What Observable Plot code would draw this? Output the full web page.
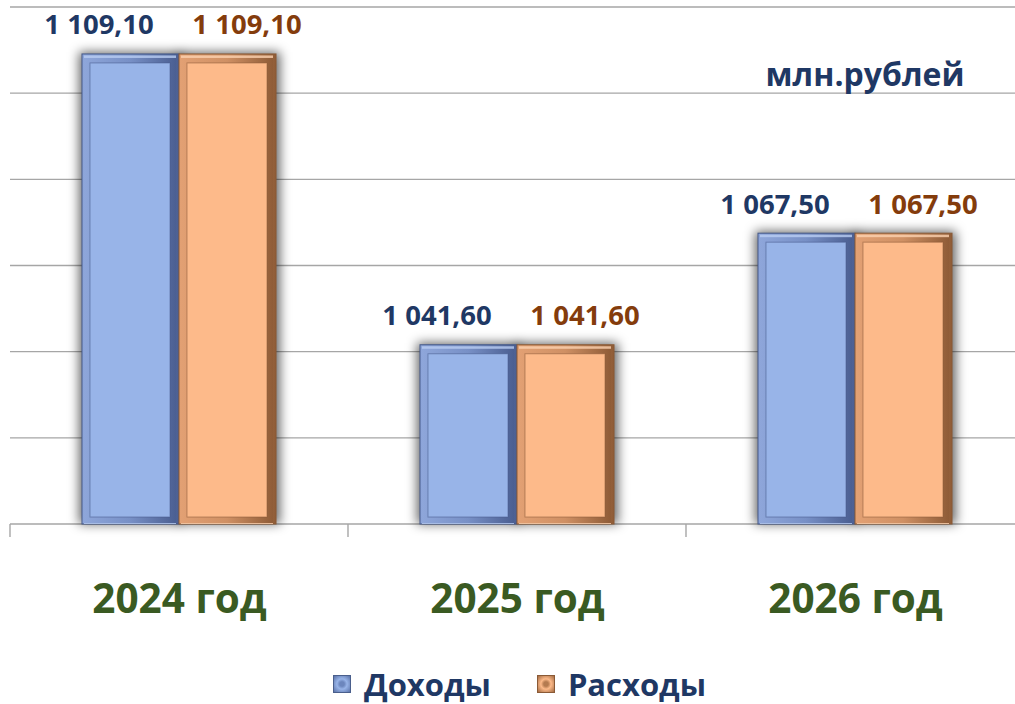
<!DOCTYPE html>
<html>
<head>
<meta charset="utf-8">
<script src="https://cdn.jsdelivr.net/npm/d3@7"></script>
<script src="https://cdn.jsdelivr.net/npm/@observablehq/plot@0.6"></script>
<style>
  html, body { margin: 0; padding: 0; background: #fff; }
  body { width: 1015px; height: 704px; overflow: hidden; font-family: "Open Sans", "Noto Sans", sans-serif; }
  #chart svg { display: block; }
  .legend { height: 54px; box-sizing: border-box; padding-top: 14px; padding-left: 24px;
            display: flex; justify-content: center; align-items: center;
            font-weight: 700; font-size: 31px; color: #1F3864; }
  .legend .sw { display: inline-block; width: 18px; height: 18px; margin-right: 13px; box-sizing: border-box; }
  .legend .sw.blue { background: radial-gradient(circle, #6c86bd 20%, #98b4e8 45%, #5a72a8 100%); border: 1px solid #4a5f8c; }
  .legend .sw.orange { background: radial-gradient(circle, #b57b50 20%, #fdba8a 45%, #a36b42 100%); border: 1px solid #8a5a36; }
  .legend .item { display: inline-flex; align-items: center; }
  .legend .item + .item { margin-left: 46px; }
</style>
</head>
<body>
<svg width="0" height="0" style="position:absolute">
  <defs>
    <linearGradient id="gBlue" x1="0" y1="0" x2="1" y2="0">
      <stop offset="0" stop-color="#8ea6da"/>
      <stop offset="0.5" stop-color="#7890c6"/>
      <stop offset="1" stop-color="#4b5f92"/>
    </linearGradient>
    <linearGradient id="gOrange" x1="0" y1="0" x2="1" y2="0">
      <stop offset="0" stop-color="#e2a073"/>
      <stop offset="0.5" stop-color="#cf9064"/>
      <stop offset="1" stop-color="#8f5c37"/>
    </linearGradient>
  </defs>
</svg>
<div id="chart"></div>
<div class="legend">
  <span class="item"><span class="sw blue"></span>Доходы</span>
  <span class="item"><span class="sw orange"></span>Расходы</span>
</div>
<script>
// ---- data ----
const years = ["2024 год", "2025 год", "2026 год"];
const seriesNames = ["Доходы", "Расходы"];
const income = [1109.10, 1041.60, 1067.50];
const expense = [1109.10, 1041.60, 1067.50];
const yTicks = [1000, 1020, 1040, 1060, 1080, 1100, 1120];
const yMin = 1000;
const yMax = 1120;
const unitLabel = "млн.рублей";

const incomeData = years.map((y, i) => ({year: y, series: seriesNames[0], value: income[i]}));
const expenseData = years.map((y, i) => ({year: y, series: seriesNames[1], value: expense[i]}));
const allData = incomeData.concat(expenseData);

const locale = d3.formatLocale({decimal: ",", thousands: " ", grouping: [3], currency: ["", ""]});
const fmt = locale.format(",.2f");

const SHADOW = "#000001";

function seriesMarks(data, grad, edge, face, light, labelColor, labelDx) {
  return [
    Plot.barY(data, {fx: "year", x: "series", y1: () => yMin, y2: "value",
      fill: grad, stroke: edge, strokeWidth: 1}),
    Plot.barY(data, {fx: "year", x: "series", y1: () => yMin, y2: "value",
      fill: light, fillOpacity: 0.8, insetTop: 1.5, insetLeft: 2, insetRight: 3,
      insetBottom: 0}),
    Plot.barY(data, {fx: "year", x: "series", y1: () => yMin, y2: "value",
      fill: grad, insetTop: 4, insetLeft: 2, insetRight: 3, insetBottom: 1}),
    Plot.barY(data, {fx: "year", x: "series", y1: () => yMin, y2: "value",
      fill: face, stroke: edge, strokeOpacity: 0.55, strokeWidth: 1,
      insetTop: 9, insetLeft: 8, insetRight: 9, insetBottom: 7}),
    Plot.text(data, {fx: "year", x: "series", y: "value", text: d => fmt(d.value),
      dx: labelDx, dy: -29, lineAnchor: "middle", fill: labelColor,
      fontSize: 27.5, fontWeight: 700})
  ];
}

const chart = Plot.plot({
  width: 1015,
  height: 650,
  marginLeft: 10,
  marginRight: -9,
  marginTop: 7,
  marginBottom: 126,
  style: {fontFamily: "'Open Sans', 'Noto Sans', sans-serif", background: "#fff"},
  fx: {domain: years, paddingInner: 0.426, paddingOuter: 0.213, round: false, label: null},
  x: {domain: seriesNames, padding: 0, round: false, axis: null},
  y: {domain: [yMin, yMax], axis: null},
  marks: [
    // soft shadow behind the bars
    Plot.barY(allData, {fx: "year", x: "series", y1: () => yMin, y2: "value",
      fill: SHADOW, fillOpacity: 0.6, insetLeft: -3, insetRight: -4, insetTop: -2}),
    ...seriesMarks(incomeData, "url(#gBlue)", "#45598a", "#98b4e8", "#b9cdf2", "#1F3864", -32),
    ...seriesMarks(expenseData, "url(#gOrange)", "#8a5a36", "#fdba8a", "#fdd2b0", "#843C0C", 19),
    Plot.text([unitLabel], {frameAnchor: "top-right", dx: 12, dy: 68, lineAnchor: "middle",
      textAnchor: "end", fill: "#1F3864", fontSize: 32, fontWeight: 700, facet: "super"}),
    Plot.axisFx({anchor: "bottom", tickSize: 0, tickPadding: 60, fontSize: 40.5,
      fontWeight: 700, fill: "#3A5A22", label: null})
  ]
});

document.getElementById("chart").appendChild(chart);

const svg = d3.select(chart);
// blur filter for the shadow mark
const defs = svg.insert("defs", ":first-child");
defs.append("filter").attr("id", "blurShadow")
  .attr("x", "-50%").attr("y", "-10%").attr("width", "200%").attr("height", "120%")
  .append("feGaussianBlur").attr("stdDeviation", 5.5);
svg.selectAll(`g[fill="${SHADOW}"], rect[fill="${SHADOW}"]`).attr("filter", "url(#blurShadow)");

// gridlines and category boundary ticks, placed from the library's own scales
const fxS = chart.scale("fx");
const yS = chart.scale("y");
const step = fxS.bandwidth / (1 - fxS.paddingInner);
const xLeft = fxS.range[0];
const xRight = fxS.range[1];
const y0 = yS.apply(yMin);
const grid = svg.insert("g", "defs + *")
  .attr("stroke", "#a6a6a6").attr("stroke-width", 1.4);
grid.selectAll("line.g").data(yTicks).join("line").attr("class", "g")
  .attr("x1", xLeft).attr("x2", xRight)
  .attr("y1", d => yS.apply(d)).attr("y2", d => yS.apply(d));
grid.selectAll("line.t").data(years).join("line").attr("class", "t")
  .attr("x1", d => fxS.apply(d) - step * fxS.paddingInner / 2)
  .attr("x2", d => fxS.apply(d) - step * fxS.paddingInner / 2)
  .attr("y1", y0).attr("y2", y0 + 13);
</script>
</body>
</html>
